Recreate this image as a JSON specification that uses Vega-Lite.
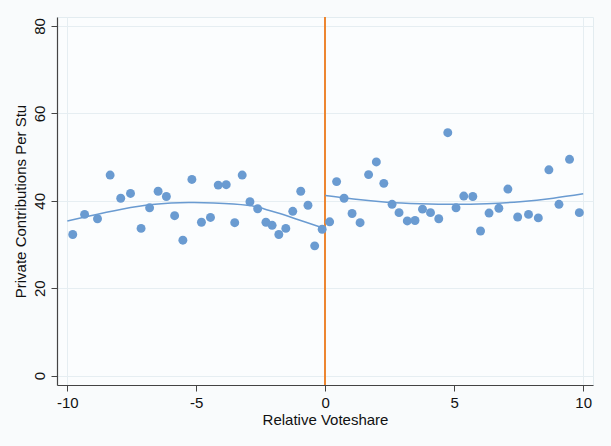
{
  "$schema": "https://vega.github.io/schema/vega-lite/v6.json",
  "width": 536,
  "height": 368,
  "autosize": {"type": "none"},
  "padding": {"left": 57, "top": 17, "right": 18, "bottom": 61},
  "background": "#f9fbfc",
  "config": {
    "font": "Liberation Sans",
    "view": {"fill": "#fbfdfe", "stroke": "#e3ecf0", "strokeWidth": 1},
    "axis": {
      "labelFont": "Liberation Sans",
      "titleFont": "Liberation Sans",
      "labelFontSize": 15,
      "titleFontSize": 15,
      "titleFontWeight": "normal",
      "labelColor": "#111111",
      "titleColor": "#111111",
      "domainColor": "#444444",
      "domainWidth": 1.2,
      "tickColor": "#444444",
      "tickSize": 6,
      "gridColor": "#e6eef2",
      "gridWidth": 1
    }
  },
  "datasets": {
    "points": [
      {"x": -9.79, "y": 32.3}, {"x": -9.33, "y": 36.9}, {"x": -8.83, "y": 35.9}, {"x": -8.34, "y": 45.9},
      {"x": -7.93, "y": 40.6}, {"x": -7.55, "y": 41.7}, {"x": -7.14, "y": 33.7}, {"x": -6.81, "y": 38.4},
      {"x": -6.48, "y": 42.2}, {"x": -6.16, "y": 41.0}, {"x": -5.84, "y": 36.6}, {"x": -5.52, "y": 31.0},
      {"x": -5.17, "y": 44.9}, {"x": -4.80, "y": 35.1}, {"x": -4.45, "y": 36.2}, {"x": -4.15, "y": 43.6},
      {"x": -3.84, "y": 43.7}, {"x": -3.51, "y": 35.0}, {"x": -3.22, "y": 45.9}, {"x": -2.92, "y": 39.8},
      {"x": -2.62, "y": 38.2}, {"x": -2.30, "y": 35.1}, {"x": -2.06, "y": 34.4}, {"x": -1.80, "y": 32.3},
      {"x": -1.53, "y": 33.7}, {"x": -1.26, "y": 37.6}, {"x": -0.95, "y": 42.2}, {"x": -0.67, "y": 39.0},
      {"x": -0.41, "y": 29.7}, {"x": -0.12, "y": 33.5},
      {"x": 0.17, "y": 35.2}, {"x": 0.44, "y": 44.4}, {"x": 0.73, "y": 40.6}, {"x": 1.04, "y": 37.1},
      {"x": 1.35, "y": 35.0}, {"x": 1.68, "y": 46.0}, {"x": 1.98, "y": 48.9}, {"x": 2.27, "y": 44.0},
      {"x": 2.59, "y": 39.2}, {"x": 2.86, "y": 37.3}, {"x": 3.18, "y": 35.4}, {"x": 3.48, "y": 35.5},
      {"x": 3.77, "y": 38.1}, {"x": 4.08, "y": 37.3}, {"x": 4.40, "y": 35.9}, {"x": 4.75, "y": 55.6},
      {"x": 5.07, "y": 38.4}, {"x": 5.37, "y": 41.1}, {"x": 5.72, "y": 41.0}, {"x": 6.02, "y": 33.1},
      {"x": 6.35, "y": 37.2}, {"x": 6.73, "y": 38.3}, {"x": 7.08, "y": 42.7}, {"x": 7.46, "y": 36.3},
      {"x": 7.88, "y": 36.9}, {"x": 8.26, "y": 36.1}, {"x": 8.67, "y": 47.1}, {"x": 9.06, "y": 39.2},
      {"x": 9.47, "y": 49.5}, {"x": 9.85, "y": 37.3}
    ],
    "fit": [
      {"side": "left", "x": -10.0, "y": 35.4}, {"side": "left", "x": -9.19, "y": 36.5},
      {"side": "left", "x": -7.89, "y": 38.1}, {"side": "left", "x": -6.6, "y": 39.2},
      {"side": "left", "x": -5.3, "y": 39.6}, {"side": "left", "x": -4.33, "y": 39.5},
      {"side": "left", "x": -3.03, "y": 39.0}, {"side": "left", "x": -2.39, "y": 38.2},
      {"side": "left", "x": -1.76, "y": 37.1}, {"side": "left", "x": -1.1, "y": 35.8},
      {"side": "left", "x": -0.2, "y": 34.0}, {"side": "left", "x": 0.0, "y": 33.6},
      {"side": "right", "x": 0.0, "y": 41.2}, {"side": "right", "x": 1.09, "y": 40.4},
      {"side": "right", "x": 2.38, "y": 39.7}, {"side": "right", "x": 3.67, "y": 39.35},
      {"side": "right", "x": 4.97, "y": 39.2}, {"side": "right", "x": 6.26, "y": 39.35},
      {"side": "right", "x": 7.55, "y": 39.8}, {"side": "right", "x": 8.84, "y": 40.6},
      {"side": "right", "x": 10.0, "y": 41.6}
    ]
  },
  "layer": [
    {
      "data": {"name": "points"},
      "mark": {"type": "rule", "color": "#ec8733", "strokeWidth": 1.2},
      "encoding": {
        "x": {
          "datum": 0,
          "type": "quantitative",
          "scale": {"domain": [-10.4, 10.38], "nice": false, "zero": false},
          "axis": {
            "values": [-10, -5, 0, 5, 10],
            "title": "Relative Voteshare",
            "labelExpr": "replace(datum.label, '\u2212', '-')",
            "grid": true,
            "gridOpacity": {"condition": {"test": "abs(datum.value) == 10", "value": 1}, "value": 0},
            "labelPadding": 4,
            "titlePadding": 2
          }
        }
      }
    },
    {
      "data": {"name": "points"},
      "mark": {"type": "circle", "size": 80, "color": "#6a9bd1", "opacity": 1},
      "encoding": {
        "x": {"field": "x", "type": "quantitative"},
        "y": {
          "field": "y",
          "type": "quantitative",
          "scale": {"domain": [-2.13, 82.06], "nice": false, "zero": false},
          "axis": {
            "values": [0, 20, 40, 60, 80],
            "title": "Private Contributions Per Stu",
            "grid": true,
            "labelAngle": -90,
            "labelAlign": "center",
            "labelBaseline": "bottom",
            "labelPadding": 4,
            "titlePadding": 4
          }
        }
      }
    },
    {
      "data": {"name": "fit"},
      "mark": {"type": "line", "color": "#6a9bd1", "strokeWidth": 1.5, "interpolate": "natural"},
      "encoding": {
        "x": {"field": "x", "type": "quantitative"},
        "y": {"field": "y", "type": "quantitative"},
        "detail": {"field": "side"}
      }
    }
  ]
}
